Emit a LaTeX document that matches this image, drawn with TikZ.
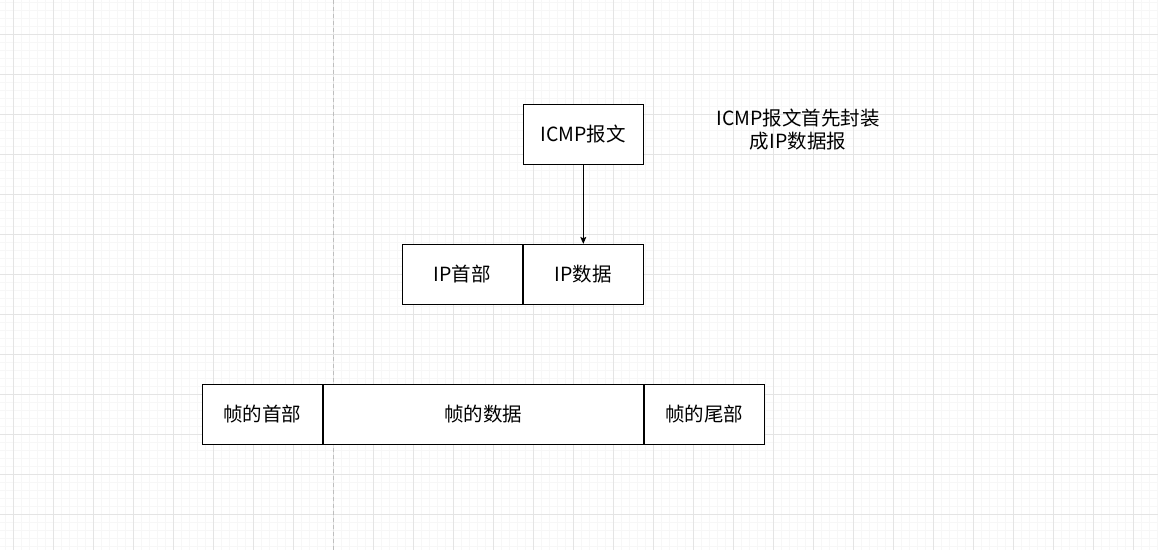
\documentclass[tikz,border=0pt]{standalone}
\usepackage{fontspec}
\setmainfont{Noto Sans CJK SC}
\usetikzlibrary{positioning,arrows.meta}

\begin{document}
\begin{tikzpicture}[x=1pt,y=-1pt,
  minor grid/.style={color={rgb,255:red,247;green,247;blue,247},line width=0.6},
  major grid/.style={color={rgb,255:red,228;green,228;blue,228},line width=0.8},
  cell/.style={draw,line width=0.9,minimum width=120,minimum height=60,inner sep=0,font=\fontsize{19.5}{23}\selectfont},
  note/.style={align=center,font=\fontsize{19.5}{23}\selectfont}]
\useasboundingbox (0,0) rectangle (1158,550);

%Grid
\foreach \x in {5.3,13.3,...,1158} \draw[minor grid] (\x,0) -- (\x,550);
\foreach \y in {2.3,10.3,...,550} \draw[minor grid] (0,\y) -- (1158,\y);
\foreach \x in {13.3,53.3,...,1158} \draw[major grid] (\x,0) -- (\x,550);
\foreach \y in {34.3,74.3,...,550} \draw[major grid] (0,\y) -- (1158,\y);
%Page break
\draw[color={rgb,255:red,190;green,190;blue,190},dash pattern=on 4 off 3,line width=0.8] (333.3,0) -- (333.3,550);

%ICMP message
\node[cell,fill=white] (icmp) at (583.3,134.3) {ICMP报文};
\node[note] (hint) at (798,130) {ICMP报文首先封装\\成IP数据报};

%IP datagram
\node[cell,fill=white] (ipdata) at (583.3,274.3) {IP数据};
\node[cell,fill=white,left=0pt of ipdata] (iphead) {IP首部};

%Frame
\node[cell,fill=white,minimum width=320] (framedata) at (483.3,414.3) {帧的数据};
\node[cell,fill=white,left=0pt of framedata] (framehead) {帧的首部};
\node[cell,fill=white,right=0pt of framedata] (frametail) {帧的尾部};

\draw[-{Stealth[length=7pt,width=6pt,inset=1.5pt]},line width=0.9] (icmp) -- (ipdata);

\end{tikzpicture}
\end{document}
